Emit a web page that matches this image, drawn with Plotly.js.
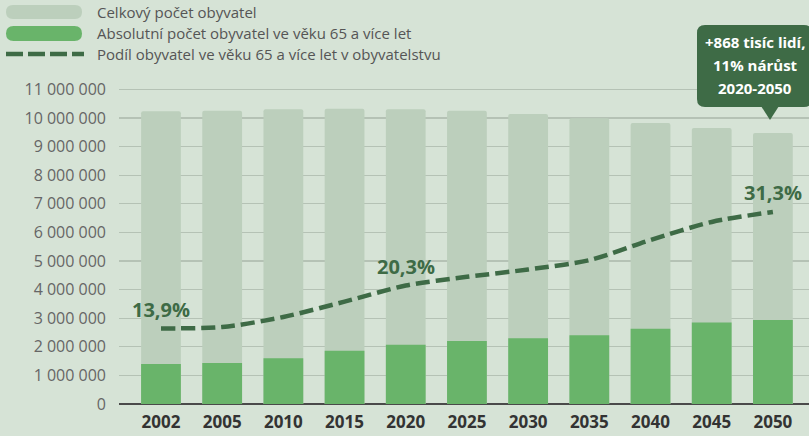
<!DOCTYPE html>
<html>
<head>
<meta charset="utf-8">
<script src="https://cdn.plot.ly/plotly-3.0.1.min.js"></script>
<style>
html,body{margin:0;padding:0;background:#d6e3d6;}
#chart{width:809px;height:436px;}
</style>
</head>
<body>
<div id="chart"></div>
<script>
// ---- data ----
const years = ['2002','2005','2010','2015','2020','2025','2030','2035','2040','2045','2050'];
const totalPop = [10230000, 10250000, 10300000, 10320000, 10300000, 10250000, 10140000, 9990000, 9820000, 9650000, 9470000];
const pop65 = [1400000, 1430000, 1600000, 1860000, 2070000, 2200000, 2300000, 2400000, 2630000, 2850000, 2940000];
const share65 = [13.9, 14.1, 15.6, 17.9, 20.3, 21.6, 22.7, 24.1, 27.1, 29.8, 31.3];
const yTickVals = [0,1e6,2e6,3e6,4e6,5e6,6e6,7e6,8e6,9e6,10e6,11e6];
const yTickText = ['0','1 000 000','2 000 000','3 000 000','4 000 000','5 000 000','6 000 000','7 000 000','8 000 000','9 000 000','10 000 000','11 000 000'];
const labelIdx = [0, 4, 10];
const legendNames = ['Celkový počet obyvatel','Absolutní počet obyvatel ve věku 65 a více let','Podíl obyvatel ve věku 65 a více let v obyvatelstvu'];
const calloutLines = ['+868 tisíc lidí,','11% nárůst','2020-2050'];

// ---- styles ----
const BG = '#d6e3d6', LIGHT = '#bccfbc', GREEN = '#69b46a', DARK = '#3e6b46';
const FONT = 'Open Sans, Noto Sans, sans-serif';
const L = 119, T = 75, W = 690, H = 329;
function px(x){ return (x - L) / W; }
function py(y){ return (T + H - y) / H; }
function roundRect(x0, y0, x1, y1, r){
  const P = (x,y) => px(x) + ',' + py(y);
  return 'M' + P(x0+r,y0) + ' L' + P(x1-r,y0) + ' Q' + P(x1,y0) + ' ' + P(x1,y0+r) +
    ' L' + P(x1,y1-r) + ' Q' + P(x1,y1) + ' ' + P(x1-r,y1) +
    ' L' + P(x0+r,y1) + ' Q' + P(x0,y1) + ' ' + P(x0,y1-r) +
    ' L' + P(x0,y0+r) + ' Q' + P(x0,y0) + ' ' + P(x0+r,y0) + ' Z';
}

// secondary axis mapping: share p corresponds to primary value slope*p + icpt
const yMax = 11.5e6;
const slope = 0.23397e6, icpt = -0.609e6;
const xRange = [-0.686, 10.59];
const y2Range = [(0 - icpt)/slope, (yMax - icpt)/slope];

const traces = [
  {type:'bar', x: years, y: totalPop, name: legendNames[0], marker:{color: LIGHT}, hoverinfo:'y'},
  {type:'bar', x: years, y: pop65, name: legendNames[1], marker:{color: GREEN}, hoverinfo:'y'},
  {type:'scatter', mode:'lines', x: years, y: share65, yaxis:'y2', name: legendNames[2],
   line:{color: DARK, width: 4.5, dash:'14px,6px', shape:'spline', smoothing:0.8}}
];

const annotations = labelIdx.map(i => ({
  x: (i - xRange[0]) / (xRange[1] - xRange[0]),
  y: (share65[i] - y2Range[0]) / (y2Range[1] - y2Range[0]),
  xref:'paper', yref:'paper', xanchor:'center', yanchor:'middle', yshift: 19,
  text: share65[i].toFixed(1).replace('.', ',') + '%', showarrow:false,
  font:{family: FONT, size: 20, color: DARK, weight: 700}
}));
legendNames.forEach((n, i) => annotations.push({
  x: px(95), y: py(12 + i*21), xref:'paper', yref:'paper', xanchor:'left', yanchor:'middle',
  text: n, showarrow:false, font:{family: FONT, size: 15, color:'#555555'}
}));
calloutLines.forEach((t, i) => annotations.push({
  x: px(755), y: py(41.5 + i*23.3), xref:'paper', yref:'paper', xanchor:'center', yanchor:'middle',
  text: t, showarrow:false, font:{family: FONT, size: 15, color:'#ffffff', weight: 700}
}));

const shapes = [
  {type:'path', xref:'paper', yref:'paper', path: roundRect(6, 5, 82, 19, 7), fillcolor: LIGHT, line:{width:0}, layer:'above'},
  {type:'path', xref:'paper', yref:'paper', path: roundRect(6, 26, 82, 41, 7.5), fillcolor: GREEN, line:{width:0}, layer:'above'},
  {type:'line', xref:'paper', yref:'paper', x0: px(6), x1: px(84), y0: py(54), y1: py(54), line:{color: DARK, width: 4.5, dash:'17px,5px'}, layer:'above'},
  {type:'path', xref:'paper', yref:'paper', path: roundRect(697, 25, 812, 107, 8), fillcolor: DARK, line:{width:0}, layer:'above'},
  {type:'path', xref:'paper', yref:'paper', path: 'M' + px(761)+','+py(106) + ' L' + px(779)+','+py(106) + ' L' + px(770)+','+py(120) + ' Z', fillcolor: DARK, line:{width:0}, layer:'above'}
];

const layout = {
  width: 809, height: 436,
  margin:{l: L, r: 0, t: T, b: 436 - T - H, pad: 0},
  paper_bgcolor: BG, plot_bgcolor: BG,
  showlegend: false,
  barmode:'overlay', bargap: 0.35, barcornerradius: 2,
  font:{family: FONT},
  xaxis:{type:'category', range: xRange, showgrid:false, zeroline:false, showline:false,
    ticks:'', tickfont:{family: FONT, size: 17, color:'#333333', weight: 700}, ticklabelstandoff: 6, fixedrange:true},
  yaxis:{range:[0, yMax], tickvals: yTickVals, ticktext: yTickText, showgrid:true, gridcolor:'#b5c2b5', gridwidth:1.2,
    zeroline:true, zerolinecolor:'#4a4a4a', zerolinewidth:1.5, showline:false, ticks:'',
    tickfont:{family: FONT, size: 16, color:'#666666'}, ticklabelstandoff: 12, fixedrange:true},
  yaxis2:{overlaying:'y', side:'right', range: y2Range, showticklabels:false, showgrid:false, zeroline:false, showline:false, ticks:'', fixedrange:true},
  annotations: annotations,
  shapes: shapes
};

Plotly.newPlot('chart', traces, layout, {displayModeBar:false, staticPlot:true});
</script>
</body>
</html>
